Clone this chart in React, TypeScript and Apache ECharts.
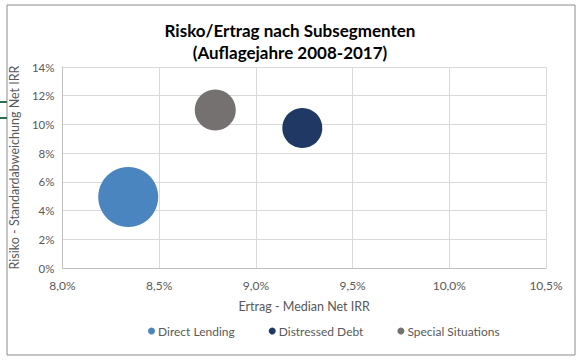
import React, { useEffect, useRef } from "react";
import * as echarts from "echarts";

const seriesNames = ["Direct Lending", "Distressed Debt", "Special Situations"];
const returnsPct = [8.34, 9.24, 8.79];
const riskPct = [4.95, 9.75, 11.0];
const bubbleValue = [9, 4, 4.2];
const colors = ["#4a85c0", "#1f3864", "#767171"];

const FONT = "Lato, 'Open Sans', sans-serif";

export default function App() {
  const ref = useRef<HTMLDivElement>(null);
  useEffect(() => {
    if (!ref.current) return;
    const chart = echarts.init(ref.current, undefined, { renderer: "svg" });
    const fmt = (v: number, d: number) => v.toFixed(d).replace(".", ",") + "%";
    chart.setOption({
      animation: false,
      backgroundColor: "#ffffff",
      title: {
        text: "Risko/Ertrag nach Subsegmenten\n(Auflagejahre 2008-2017)",
        left: 285,
        top: 14,
        textAlign: "center",
        textStyle: { fontFamily: FONT, fontSize: 17, fontWeight: "bold", color: "#000", lineHeight: 22 },
      },
      grid: { left: 60, right: 36, top: 67, bottom: 94 },
      xAxis: {
        type: "value",
        min: 8,
        max: 10.5,
        interval: 0.5,
        name: "Ertrag - Median Net IRR",
        nameLocation: "middle",
        nameGap: 32,
        nameTextStyle: { fontFamily: FONT, fontSize: 12.5, color: "#595959" },
        axisLine: { show: true, lineStyle: { color: "#bfbfbf" } },
        axisTick: { show: false },
        axisLabel: { formatter: (v: number) => fmt(v, 1), fontFamily: FONT, fontSize: 12, color: "#595959", margin: 11 },
        splitLine: { show: true, lineStyle: { color: "#d9d9d9" } },
      },
      yAxis: {
        type: "value",
        min: 0,
        max: 14,
        interval: 2,
        name: "Risiko - Standardabweichung Net IRR",
        nameLocation: "middle",
        nameGap: 37,
        nameTextStyle: { fontFamily: FONT, fontSize: 12.5, color: "#595959" },
        axisLine: { show: true, lineStyle: { color: "#bfbfbf" } },
        axisTick: { show: false },
        axisLabel: { formatter: (v: number) => fmt(v, 0), fontFamily: FONT, fontSize: 11.5, color: "#595959", margin: 8 },
        splitLine: { show: true, lineStyle: { color: "#d9d9d9" } },
      },
      legend: {
        bottom: 20,
        left: 143,
        itemGap: 34,
        itemWidth: 7,
        itemHeight: 7,
        icon: "circle",
        textStyle: { fontFamily: FONT, fontSize: 12, color: "#595959", padding: [0, 0, 0, -2] },
        data: seriesNames,
      },
      graphic: [
        { type: "rect", shape: { x: 7, y: 5, width: 568, height: 350 }, style: { fill: "none", stroke: "#8c8c8c", lineWidth: 1 }, z: 0 },
        { type: "line", shape: { x1: 0, y1: 102, x2: 7, y2: 102 }, style: { stroke: "#2e6b4f", lineWidth: 2 } },
        { type: "line", shape: { x1: 0, y1: 118, x2: 7, y2: 118 }, style: { stroke: "#2e6b4f", lineWidth: 2 } },
      ],
      series: seriesNames.map((name, i) => ({
        name,
        type: "scatter",
        data: [[returnsPct[i], riskPct[i], bubbleValue[i]]],
        symbolSize: (d: number[]) => Math.sqrt(d[2]) * 20,
        itemStyle: { color: colors[i], opacity: 1 },
      })),
    });
    return () => chart.dispose();
  }, []);
  return <div ref={ref} style={{ width: 582, height: 362, position: "absolute", left: 0, top: 0 }} />;
}
